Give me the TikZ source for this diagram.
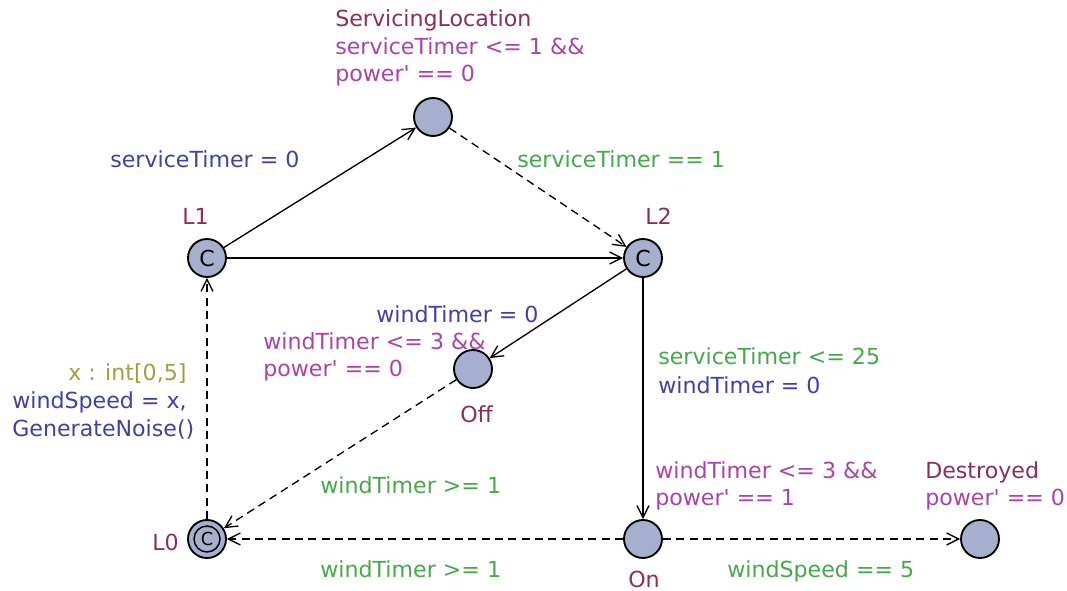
\documentclass[tikz,border=0pt]{standalone}
\usepackage{fontspec}
\setmainfont{DejaVu Sans}[Ligatures=TeXOff]
\usetikzlibrary{arrows.meta}
\definecolor{locfill}{RGB}{167,175,206}
\definecolor{namec}{RGB}{140,45,92}
\definecolor{invc}{RGB}{168,67,168}
\definecolor{guardc}{RGB}{69,169,74}
\definecolor{assignc}{RGB}{64,64,168}
\definecolor{selc}{RGB}{160,160,64}
\begin{document}
\begin{tikzpicture}[x=0.75pt,y=-0.75pt,
  loc/.style={circle, draw=black, line width=1.4pt, fill=locfill,
    minimum size=28.5pt, inner sep=0pt, font=\fontsize{16.5}{16.5}\selectfont},
  ring/.style={circle, draw=black, line width=1.1pt, minimum size=19.5pt,
    inner sep=0pt, font=\fontsize{13.4}{13.4}\selectfont},
  lbl/.style={anchor=base west, inner sep=0pt, font=\fontsize{16.6}{20}\selectfont},
  locname/.style={lbl, text=namec},
  inv/.style={lbl, text=invc},
  guard/.style={lbl, text=guardc},
  assign/.style={lbl, text=assignc},
  sel/.style={lbl, text=selc},
  trans/.style={line width=1pt, -{Straight Barb[length=9pt,width=9pt]}},
  dtrans/.style={trans, dash pattern=on 6pt off 4pt}]
\useasboundingbox (0,0) rectangle (1067,591);

% locations
\node[loc] (SL) at (433,117) {};
\node[loc] (L1) at (207,258) {C};
\node[loc] (L2) at (643,258) {C};
\node[loc] (Off) at (473,369) {};
\node[loc] (L0) at (207,539) {};
\node[ring] (L0ring) at (L0) {C};
\node[loc] (On) at (643,539) {};
\node[loc] (Destroyed) at (980,539) {};

% location names and invariants
\node[locname] (nSL) at (335,27) {ServicingLocation};
\node[inv] (iSLa) at (335,55) {serviceTimer <= 1 \&\&};
\node[inv] (iSLb) at (335,82) {power' == 0};
\node[locname] (nL1) at (182,225) {L1};
\node[locname] (nL2) at (645,225) {L2};
\node[locname] (nOff) at (460,422) {Off};
\node[inv] (iOffa) at (263,350) {windTimer <= 3 \&\&};
\node[inv] (iOffb) at (263,377) {power' == 0};
\node[locname] (nL0) at (152,550) {L0};
\node[locname] (nOn) at (628,587) {On};
\node[inv] (iOna) at (655,478) {windTimer <= 3 \&\&};
\node[inv] (iOnb) at (655,505) {power' == 1};
\node[locname] (nDes) at (925,478) {Destroyed};
\node[inv] (iDes) at (925,505) {power' == 0};

% transitions
\draw[trans] (L1) -- (SL);
\draw[dtrans] (SL) -- (L2);
\draw[trans] (L1) -- (L2);
\draw[trans] (L2) -- (Off);
\draw[trans] (L2) -- (On);
\draw[dtrans] (Off) -- (L0);
\draw[dtrans] (On) -- (L0);
\draw[dtrans] (L0) -- (L1);
\draw[dtrans] (On) -- (Destroyed);

% transition labels
\node[assign] (aSL) at (110,168) {serviceTimer = 0};
\node[guard] (gSL) at (517,168) {serviceTimer == 1};
\node[assign] (aOff) at (376,323) {windTimer = 0};
\node[guard] (gOn) at (658,365) {serviceTimer <= 25};
\node[assign] (aOn) at (658,393) {windTimer = 0};
\node[sel] (sL0) at (68,381) {x : int[0,5]};
\node[assign] (aL0a) at (12,408) {windSpeed = x,};
\node[assign] (aL0b) at (12,436) {GenerateNoise()};
\node[guard] (gOffL0) at (320,493) {windTimer >= 1};
\node[guard] (gOnL0) at (320,577) {windTimer >= 1};
\node[guard] (gDes) at (727,577) {windSpeed == 5};
\end{tikzpicture}
\end{document}
